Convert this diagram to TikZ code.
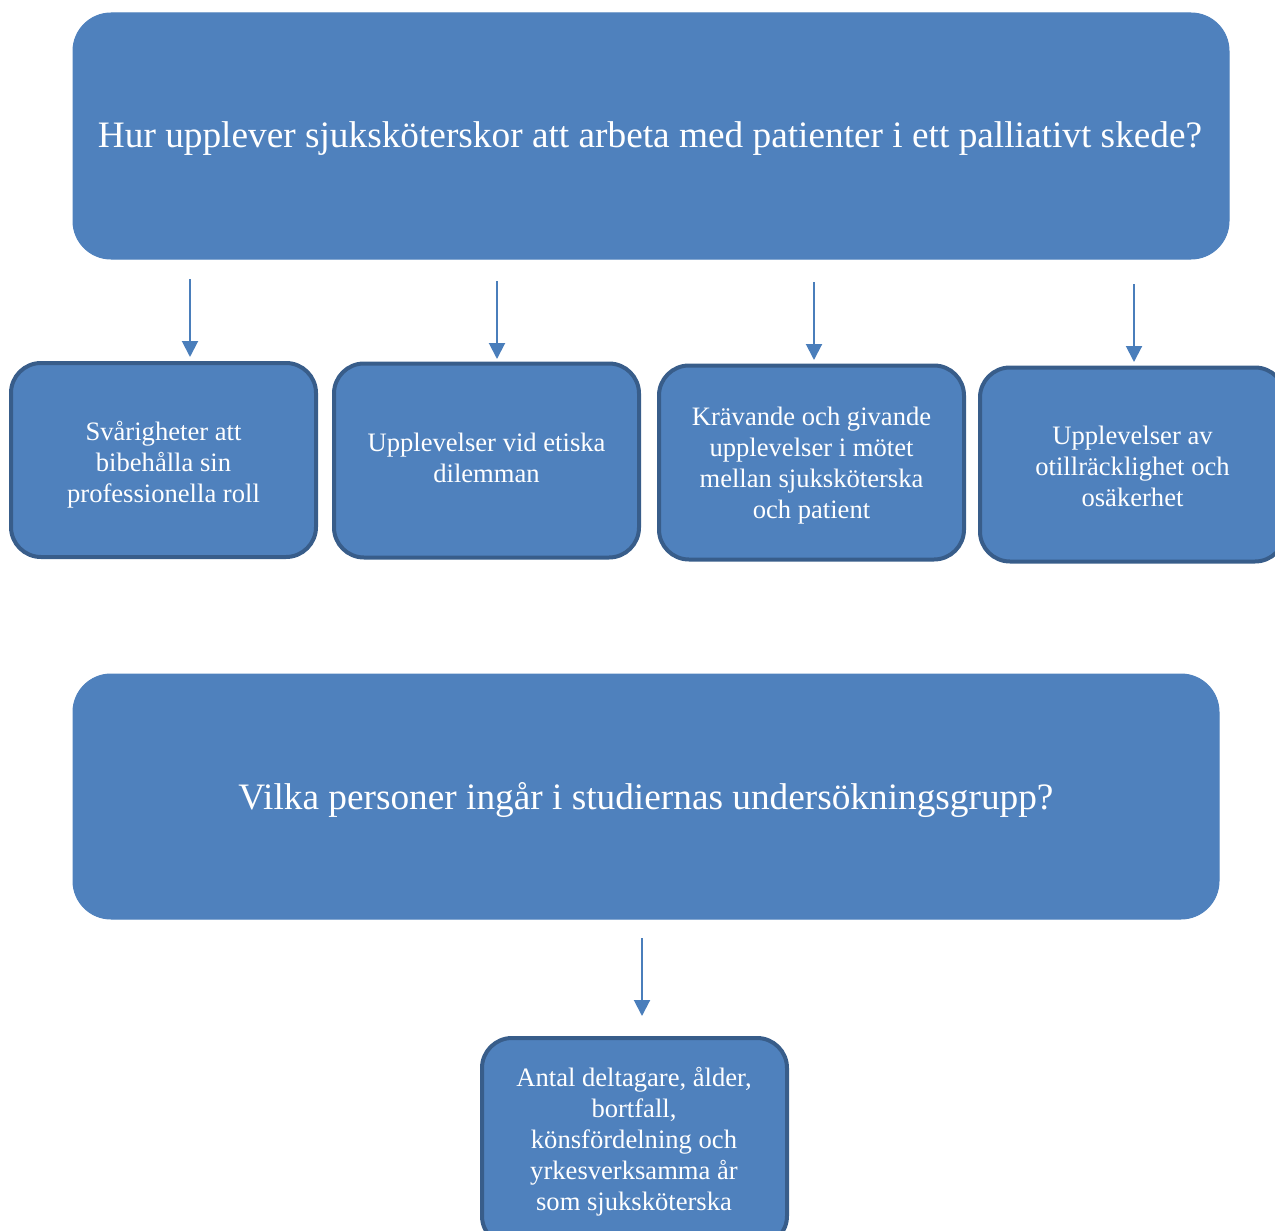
\documentclass[tikz,border=0pt]{standalone}
\usepackage{fontspec}
\setmainfont{Liberation Serif}
\usetikzlibrary{arrows.meta}
\definecolor{boxfill}{HTML}{4F81BD}
\definecolor{boxline}{HTML}{385D8A}
\definecolor{arrcol}{HTML}{4A7EBB}
\tikzset{
  bigbox/.style={draw=boxfill, fill=boxfill, rounded corners=38pt, line width=1pt, inner sep=0pt},
  bigtext/.style={text=white, font=\fontsize{37.3}{43}\selectfont, inner sep=0pt},
  smallbox/.style={draw=boxline, fill=boxfill, rounded corners=30pt, line width=4pt,
    inner sep=0pt, minimum width=305pt, minimum height=194pt},
  smalltext/.style={text=white, font=\fontsize{26.6}{31}\selectfont, align=center, inner sep=0pt},
  arr/.style={draw=arrcol, line width=2pt, -{Triangle[width=16pt,length=16pt]}, arrcol}
}
\begin{document}
\begin{tikzpicture}[x=1pt,y=-1pt]
\useasboundingbox (0,0) rectangle (1275,1231);
\clip (0,0) rectangle (1275,1231);
% top question
\node[bigbox, minimum width=1156pt, minimum height=246pt] (q1) at (651,136) {};
\node[bigtext] (q1t) at (650,139) {Hur upplever sjuksköterskor att arbeta med patienter i ett palliativt skede?};
% four theme boxes
\node[smallbox] (b1) at (163.5,460) {};
\node[smalltext] (b1t) at (163.5,465) {Svårigheter att\\bibehålla sin\\professionella roll};
\node[smallbox] (b2) at (486.5,460.5) {};
\node[smalltext] (b2t) at (486.5,457.5) {Upplevelser vid etiska\\dilemman};
\node[smallbox] (b3) at (811.5,462.5) {};
\node[smalltext] (b3t) at (811.5,465.5) {Krävande och givande\\upplevelser i mötet\\mellan sjuksköterska\\och patient};
\node[smallbox] (b4) at (1132.5,464.5) {};
\node[smalltext] (b4t) at (1132.5,466.5) {Upplevelser av\\otillräcklighet och\\osäkerhet};
% arrows
\coordinate (s1) at (190,279); \coordinate (e1) at (190,357);
\coordinate (s2) at (497,281); \coordinate (e2) at (497,359);
\coordinate (s3) at (814,282); \coordinate (e3) at (814,360);
\coordinate (s4) at (1134,284); \coordinate (e4) at (1134,362);
\draw[arr] (s1) -- (e1);
\draw[arr] (s2) -- (e2);
\draw[arr] (s3) -- (e3);
\draw[arr] (s4) -- (e4);
% second question
\node[bigbox, minimum width=1146pt, minimum height=245pt] (q2) at (646,796.5) {};
\node[bigtext] (q2t) at (646,800) {Vilka personer ingår i studiernas undersökningsgrupp?};
\coordinate (s5) at (642,938); \coordinate (e5) at (642,1016);
\draw[arr] (s5) -- (e5);
\node[smallbox, minimum height=208pt] (b5) at (634.5,1142) {};
\node[smalltext] (b5t) at (634,1142) {Antal deltagare, ålder,\\bortfall,\\könsfördelning och\\yrkesverksamma år\\som sjuksköterska};
\end{tikzpicture}
\end{document}
